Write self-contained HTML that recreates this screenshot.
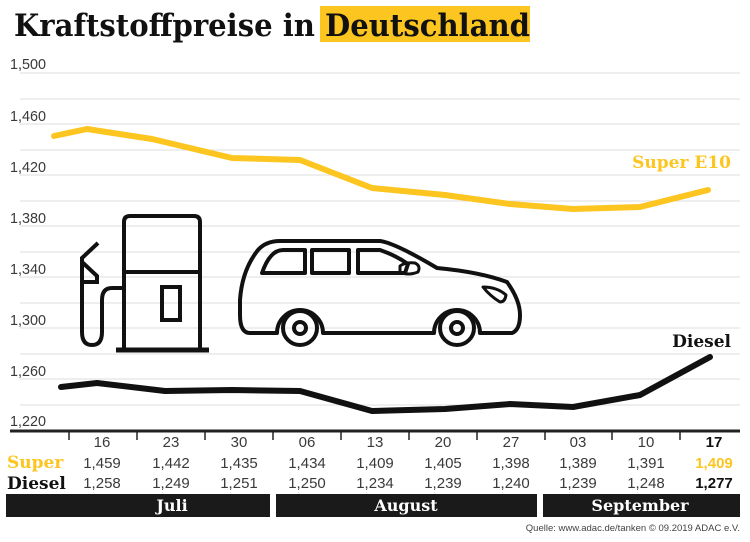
<!DOCTYPE html>
<html><head><meta charset="utf-8"><style>
html,body{margin:0;padding:0;background:#fff;}
svg{display:block;}
.n{font-family:"Liberation Sans",sans-serif;font-size:15px;fill:#3a3a3a;}
.s{font-family:"DejaVu Serif",serif;font-weight:bold;}
</style></head><body>
<svg width="750" height="542" viewBox="0 0 750 542" xmlns="http://www.w3.org/2000/svg">
<rect x="320" y="6" width="210" height="36" fill="#fcc520"/>
<text x="14" y="36" class="s" font-size="31" fill="#111" textLength="516" lengthAdjust="spacingAndGlyphs">Kraftstoffpreise in Deutschland</text>
<g stroke="#ddd" stroke-width="1">
<line x1="20" x2="740" y1="73" y2="73"/><line x1="20" x2="740" y1="99" y2="99"/><line x1="20" x2="740" y1="124" y2="124"/><line x1="20" x2="740" y1="150" y2="150"/><line x1="20" x2="740" y1="175" y2="175"/><line x1="20" x2="740" y1="201" y2="201"/><line x1="20" x2="740" y1="226" y2="226"/><line x1="20" x2="740" y1="252" y2="252"/><line x1="20" x2="740" y1="277" y2="277"/><line x1="20" x2="740" y1="303" y2="303"/><line x1="20" x2="740" y1="328" y2="328"/><line x1="20" x2="740" y1="354" y2="354"/><line x1="20" x2="740" y1="379" y2="379"/><line x1="20" x2="740" y1="405" y2="405"/>
</g>
<g class="n" font-size="15">
<text x="10" y="69" textLength="36" lengthAdjust="spacingAndGlyphs">1,500</text><text x="10" y="121" textLength="36" lengthAdjust="spacingAndGlyphs">1,460</text><text x="10" y="172" textLength="36" lengthAdjust="spacingAndGlyphs">1,420</text><text x="10" y="223" textLength="36" lengthAdjust="spacingAndGlyphs">1,380</text><text x="10" y="274" textLength="36" lengthAdjust="spacingAndGlyphs">1,340</text><text x="10" y="325" textLength="36" lengthAdjust="spacingAndGlyphs">1,300</text><text x="10" y="376" textLength="36" lengthAdjust="spacingAndGlyphs">1,260</text><text x="10" y="426" textLength="36" lengthAdjust="spacingAndGlyphs">1,220</text>
</g>
<line x1="10" x2="740" y1="431" y2="431" stroke="#222" stroke-width="3"/>
<g stroke="#222" stroke-width="1.5">
<line x1="69" x2="69" y1="431" y2="440"/><line x1="137" x2="137" y1="431" y2="440"/><line x1="205" x2="205" y1="431" y2="440"/><line x1="273" x2="273" y1="431" y2="440"/><line x1="341" x2="341" y1="431" y2="440"/><line x1="409" x2="409" y1="431" y2="440"/><line x1="477" x2="477" y1="431" y2="440"/><line x1="545" x2="545" y1="431" y2="440"/><line x1="612" x2="612" y1="431" y2="440"/><line x1="680" x2="680" y1="431" y2="440"/>
</g>
<polyline fill="none" stroke="#fcc520" stroke-width="6" stroke-linejoin="round" stroke-linecap="round" points="54,136 87,129 152,139 232,158 300,160 372,188 445,195 510,204 573,209 640,207 708,190"/>
<polyline fill="none" stroke="#111" stroke-width="6" stroke-linejoin="round" stroke-linecap="round" points="61,387 97,383 165,391 232,390 300,391 372,411 445,409 510,404 573,407 640,395 710,357"/>
<text x="731" y="168" text-anchor="end" class="s" font-size="17" fill="#fcc520">Super E10</text>
<text x="731" y="347" text-anchor="end" class="s" font-size="17" fill="#111">Diesel</text>
<g fill="none" stroke="#111" stroke-width="4">
<path d="M124,350 V222 Q124,216 130,216 H194 Q200,216 200,222 V350"/>
<line x1="124" y1="272" x2="200" y2="272"/>
<rect x="162" y="287" width="18" height="33"/>
<line x1="116" y1="350" x2="209" y2="350" stroke-width="5"/>
<path d="M98,243 L82,258 V332 Q82,345 92,345 Q102,345 102,332 V300 Q102,288 112,288 H124"/>
<path d="M82,262 L97,276 V282 H82"/>
</g>
<g fill="none" stroke="#111" stroke-width="4" stroke-linejoin="round">
<path d="M240,300 Q242,270 258,250 Q266,241 280,241 H380 Q395,243 437,268 Q480,272 507,282 Q520,300 520,315 Q520,330 512,333 H480 A23,23 0 0 0 434,333 H323 A23,23 0 0 0 277,333 H250 Q240,333 240,315 Z"/>
<path d="M262,273 Q270,250 283,250 H305 V273 Z"/>
<rect x="312" y="250" width="37" height="23"/>
<path d="M358,250 H380 Q395,255 408,264 L405,273 H358 Z"/>
<path d="M400,266 Q405,262 415,263 Q421,266 418,272 Q408,276 400,272 Z" stroke-width="3"/>
<path d="M483,287 Q497,287 506,295 Q505,302 500,302 Q490,296 483,287 Z" stroke-width="3"/>
<circle cx="300" cy="328" r="17"/><circle cx="300" cy="328" r="6"/>
<circle cx="457" cy="328" r="17"/><circle cx="457" cy="328" r="6"/>
</g>
<g class="n" text-anchor="middle" font-size="15">
<text x="102" y="447">16</text><text x="171" y="447">23</text><text x="239" y="447">30</text><text x="307" y="447">06</text><text x="375" y="447">13</text><text x="443" y="447">20</text><text x="511" y="447">27</text><text x="578" y="447">03</text><text x="646" y="447">10</text><text x="714" y="447" font-weight="bold" fill="#111">17</text>
<text x="102" y="468">1,459</text><text x="171" y="468">1,442</text><text x="239" y="468">1,435</text><text x="307" y="468">1,434</text><text x="375" y="468">1,409</text><text x="443" y="468">1,405</text><text x="511" y="468">1,398</text><text x="578" y="468">1,389</text><text x="646" y="468">1,391</text><text x="714" y="468" font-weight="bold" fill="#fcc520">1,409</text>
<text x="102" y="488">1,258</text><text x="171" y="488">1,249</text><text x="239" y="488">1,251</text><text x="307" y="488">1,250</text><text x="375" y="488">1,234</text><text x="443" y="488">1,239</text><text x="511" y="488">1,240</text><text x="578" y="488">1,239</text><text x="646" y="488">1,248</text><text x="714" y="488" font-weight="bold" fill="#111">1,277</text>
</g>
<text x="7" y="468" class="s" font-size="17" fill="#fcc520">Super</text>
<text x="7" y="489" class="s" font-size="17" fill="#111">Diesel</text>
<rect x="6" y="494" width="264" height="23" fill="#1a1a1a"/>
<rect x="276" y="494" width="261" height="23" fill="#1a1a1a"/>
<rect x="543" y="494" width="197" height="23" fill="#1a1a1a"/>
<g class="s" font-size="16" fill="#fff" text-anchor="middle">
<text x="172" y="511">Juli</text><text x="406" y="511">August</text><text x="640" y="511">September</text>
</g>
<text x="740" y="531" text-anchor="end" font-family="Liberation Sans,sans-serif" font-size="9.5" fill="#444">Quelle: www.adac.de/tanken   © 09.2019  ADAC e.V.</text>
</svg>
</body></html>
